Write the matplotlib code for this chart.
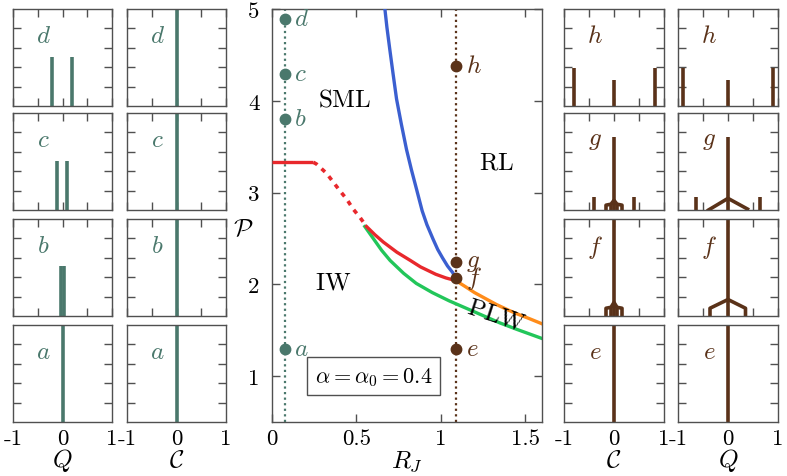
import matplotlib
matplotlib.use("Agg")
import matplotlib.pyplot as plt
import numpy as np

plt.rcParams['mathtext.fontset'] = 'cm'
plt.rcParams['font.family'] = ['cmr10', 'DejaVu Serif']
plt.rcParams['axes.unicode_minus'] = False

TEAL = '#4a786c'
BROWN = '#5a3219'
RED = '#e8282c'
BLUE = '#3b5fd0'
GREEN = '#22c65a'
ORANGE = '#ff8c1a'
SPINE = '#505050'

# ---------------- main phase diagram data ----------------
red_flat_x = [0.0, 0.245]
red_flat_y = [3.33, 3.33]
red_dash_x = [0.245, 0.264, 0.323, 0.402, 0.442, 0.481, 0.521, 0.56]
red_dash_y = [3.33, 3.31, 3.21, 3.02, 2.93, 2.82, 2.73, 2.63]
red_x = [0.56, 0.61, 0.66, 0.74, 0.82, 0.88, 0.97, 1.03, 1.09]
red_y = [2.63, 2.54, 2.46, 2.35, 2.26, 2.19, 2.11, 2.07, 2.04]
blue_x = [0.669, 0.681, 0.698, 0.717, 0.738, 0.766, 0.797, 0.826, 0.856, 0.89,
          0.918, 0.955, 0.982, 1.01, 1.04, 1.07, 1.09]
blue_y = [5.0, 4.8, 4.56, 4.3, 4.02, 3.75, 3.47, 3.25, 3.04, 2.8,
          2.65, 2.49, 2.38, 2.29, 2.2, 2.13, 2.06]
green_x = [0.55, 0.60, 0.65, 0.70, 0.78, 0.855, 0.95, 1.05, 1.15, 1.25, 1.35, 1.45, 1.6]
green_y = [2.63, 2.50, 2.37, 2.26, 2.12, 2.01, 1.91, 1.82, 1.74, 1.66, 1.58, 1.51, 1.41]
orange_x = [1.09, 1.15, 1.2, 1.27, 1.33, 1.4, 1.45, 1.52, 1.6]
orange_y = [2.04, 1.97, 1.91, 1.84, 1.78, 1.72, 1.68, 1.63, 1.57]

teal_RJ = 0.075
teal_labels = ['a', 'b', 'c', 'd']
teal_P = [1.30, 3.80, 4.29, 4.89]
brown_RJ = 1.09
brown_labels = ['e', 'f', 'g', 'h']
brown_P = [1.30, 2.07, 2.24, 4.38]

region_labels = ['SML', 'RL', 'IW', 'PLW']
region_x = [0.43, 1.33, 0.36, 1.33]
region_y = [4.02, 3.33, 2.02, 1.67]
region_rot = [0, 0, 0, -18]

main_xticks = [0, 0.5, 1, 1.5]
main_xticklabels = ['0', '0.5', '1', '1.5']
main_yticks = [1, 2, 3, 4, 5]
main_yticklabels = ['1', '2', '3', '4', '5']

# ---------------- small panel data (top row first) ----------------
left_Q_x = {'d': [-0.21, 0.20], 'c': [-0.12, 0.10], 'b': [-0.035, 0.035], 'a': [0.0]}
left_Q_h = {'d': [0.51, 0.51], 'c': [0.51, 0.51], 'b': [0.52, 0.52], 'a': [1.0]}
left_C_x = {'d': [0.0], 'c': [0.0], 'b': [0.0], 'a': [0.0]}
left_C_h = {'d': [1.0], 'c': [1.0], 'b': [1.0], 'a': [1.0]}

right_C_x = {'h': [-0.81, 0.0, 0.81], 'g': [-0.4, 0.0, 0.4], 'f': [0.0], 'e': [0.0]}
right_C_h = {'h': [0.39, 0.27, 0.39], 'g': [0.13, 0.755, 0.13], 'f': [1.0], 'e': [1.0]}
right_Q_x = {'h': [-0.90, 0.0, 0.89], 'g': [-0.64, 0.0, 0.63], 'f': [0.0], 'e': [0.0]}
right_Q_h = {'h': [0.39, 0.27, 0.39], 'g': [0.13, 0.755, 0.13], 'f': [1.0], 'e': [1.0]}

fork_C_x = {'g': [-0.16, -0.16, -0.06, 0.0, 0.06, 0.16, 0.16],
            'f': [-0.16, -0.16, -0.06, 0.0, 0.06, 0.16, 0.16]}
fork_C_y = {'g': [0.0, 0.05, 0.06, 0.10, 0.06, 0.05, 0.0],
            'f': [0.0, 0.08, 0.09, 0.14, 0.09, 0.08, 0.0]}
fork_C_legs = {'g': [-0.06, 0.06], 'f': [-0.06, 0.06]}
fork_C_legh = {'g': [0.06, 0.06], 'f': [0.09, 0.09]}
tent_Q_x = {'g': [-0.39, 0.0, 0.39], 'f': [-0.36, -0.36, 0.0, 0.35, 0.35]}
tent_Q_y = {'g': [0.0, 0.12, 0.01], 'f': [0.0, 0.08, 0.17, 0.08, 0.0]}

small_xticks = [-1, -0.5, 0, 0.5, 1]
small_xticklabels = ['-1', '', '0', '', '1']
small_yticks = [0.2, 0.4, 0.6, 0.8]

FS_TICK = 16.5
FS_LET = 18
FS_LAB = 18

# ---------------- layout ----------------
W, H = 787, 477
fig = plt.figure(figsize=(W / 100, H / 100), dpi=100)


def add_ax(l, t, r, b):
    return fig.add_axes([l / W, 1 - b / H, (r - l) / W, (b - t) / H])


rows = [(10, 107), (114, 211), (220, 317), (326, 423)]
cols = {'lQ': (13, 112), 'lC': (127, 226), 'rC': (564, 664), 'rQ': (678, 778)}
left_letters = ['d', 'c', 'b', 'a']
right_letters = ['h', 'g', 'f', 'e']


def style_small(ax, bottom_row, xlabel=None, lpad=-1):
    ax.set_xlim(-1, 1)
    ax.set_ylim(0, 1)
    for s in ax.spines.values():
        s.set_color(SPINE)
        s.set_linewidth(1.0)
    ax.set_xticks(small_xticks)
    ax.set_yticks(small_yticks)
    ax.set_yticklabels([])
    ax.tick_params(axis='both', direction='in', length=5.8, width=1.0,
                   color=SPINE, top=True, right=True)
    if bottom_row:
        ax.set_xticklabels(small_xticklabels, fontsize=FS_TICK)
        ax.tick_params(axis='x', length=0, pad=5)
        if xlabel:
            ax.set_xlabel(xlabel, fontsize=FS_LAB, labelpad=lpad)
    else:
        ax.set_xticklabels([])


def bars(ax, xs, hs, color, lw=2.6):
    ax.vlines(xs, 0, hs, colors=color, linewidth=lw, capstyle='butt')


for i, (t, b) in enumerate(rows):
    last = (i == len(rows) - 1)
    L = left_letters[i]
    R = right_letters[i]
    ax = add_ax(cols['lQ'][0], t, cols['lQ'][1], b)
    style_small(ax, last, r'$Q$', lpad=-2)
    bars(ax, left_Q_x[L], left_Q_h[L], TEAL)
    ax.text(-0.38, 0.72, '$%s$' % L, color=TEAL, fontsize=FS_LET, ha='center', va='center')

    ax = add_ax(cols['lC'][0], t, cols['lC'][1], b)
    style_small(ax, last, r'$\mathcal{C}$', lpad=0)
    bars(ax, left_C_x[L], left_C_h[L], TEAL)
    ax.text(-0.38, 0.72, '$%s$' % L, color=TEAL, fontsize=FS_LET, ha='center', va='center')

    ax = add_ax(cols['rC'][0], t, cols['rC'][1], b)
    style_small(ax, last, r'$\mathcal{C}$', lpad=0)
    bars(ax, right_C_x[R], right_C_h[R], BROWN)
    if R in fork_C_x:
        ax.plot(fork_C_x[R], fork_C_y[R], color=BROWN, lw=2.6, solid_joinstyle='round')
        bars(ax, fork_C_legs[R], fork_C_legh[R], BROWN)
    ax.text(-0.38, 0.72, '$%s$' % R, color=BROWN, fontsize=FS_LET, ha='center', va='center')

    ax = add_ax(cols['rQ'][0], t, cols['rQ'][1], b)
    style_small(ax, last, r'$Q$', lpad=-2)
    bars(ax, right_Q_x[R], right_Q_h[R], BROWN)
    if R in tent_Q_x:
        ax.plot(tent_Q_x[R], tent_Q_y[R], color=BROWN, lw=2.6, solid_joinstyle='round')
    ax.text(-0.38, 0.72, '$%s$' % R, color=BROWN, fontsize=FS_LET, ha='center', va='center')

# ---------------- main axes ----------------
ax = add_ax(272, 10, 542, 423)
ax.set_xlim(0, 1.6)
ax.set_ylim(0.5, 5)
for s in ax.spines.values():
    s.set_color(SPINE)
    s.set_linewidth(1.0)
ax.set_xticks(main_xticks)
ax.set_xticklabels(main_xticklabels, fontsize=FS_TICK)
ax.set_yticks(main_yticks)
ax.set_yticklabels(main_yticklabels, fontsize=FS_TICK)
ax.tick_params(axis='both', direction='in', length=5.8, width=1.0, color=SPINE,
               top=True, right=True)
ax.tick_params(axis='x', pad=5)
ax.tick_params(axis='y', pad=9)
ax.set_xlabel(r'$R_J$', fontsize=FS_LAB, labelpad=0)
ax.set_ylabel(r'$\mathcal{P}$', fontsize=FS_LAB, rotation=0)
ax.yaxis.set_label_coords(-0.105, 0.44)

ax.axvline(teal_RJ, color=TEAL, ls=(0, (1, 1.5)), lw=1.6, zorder=1)
ax.axvline(brown_RJ, color=BROWN, ls=(0, (1, 1.5)), lw=1.6, zorder=1)

ax.plot(green_x, green_y, color=GREEN, lw=2.4, zorder=2)
ax.plot(orange_x, orange_y, color=ORANGE, lw=2.4, zorder=2)
ax.plot(red_flat_x, red_flat_y, color=RED, lw=2.4, zorder=3, solid_capstyle='butt')
ax.plot(red_dash_x, red_dash_y, color=RED, lw=2.6, ls=(0, (1.3, 1.6)), zorder=3)
ax.plot(red_x, red_y, color=RED, lw=2.4, zorder=3)
ax.plot(blue_x, blue_y, color=BLUE, lw=2.4, zorder=4)

ax.plot([teal_RJ] * len(teal_P), teal_P, 'o', color=TEAL, ms=7.5, zorder=5)
ax.plot([brown_RJ] * len(brown_P), brown_P, 'o', color=BROWN, ms=7.5, zorder=5)
for lab, p in zip(teal_labels, teal_P):
    ax.annotate('$%s$' % lab, (teal_RJ, p), xytext=(7, 0), textcoords='offset points',
                color=TEAL, fontsize=FS_LET, va='center', ha='left')
for lab, p in zip(brown_labels, brown_P):
    ax.annotate('$%s$' % lab, (brown_RJ, p), xytext=(7, 0), textcoords='offset points',
                color=BROWN, fontsize=FS_LET, va='center', ha='left')

for lab, x, y, r in zip(region_labels, region_x, region_y, region_rot):
    ax.text(x, y, r'$\mathrm{%s}$' % lab, fontsize=FS_LAB, ha='center', va='center',
            rotation=r, zorder=6)

ax.text(0.60, 1.0, r'$\alpha = \alpha_0 = 0.4$', fontsize=16, ha='center', va='center',
        bbox=dict(boxstyle='square,pad=0.35', fc='white', ec=SPINE, lw=1.0))

fig.savefig('out.png', dpi=100)
